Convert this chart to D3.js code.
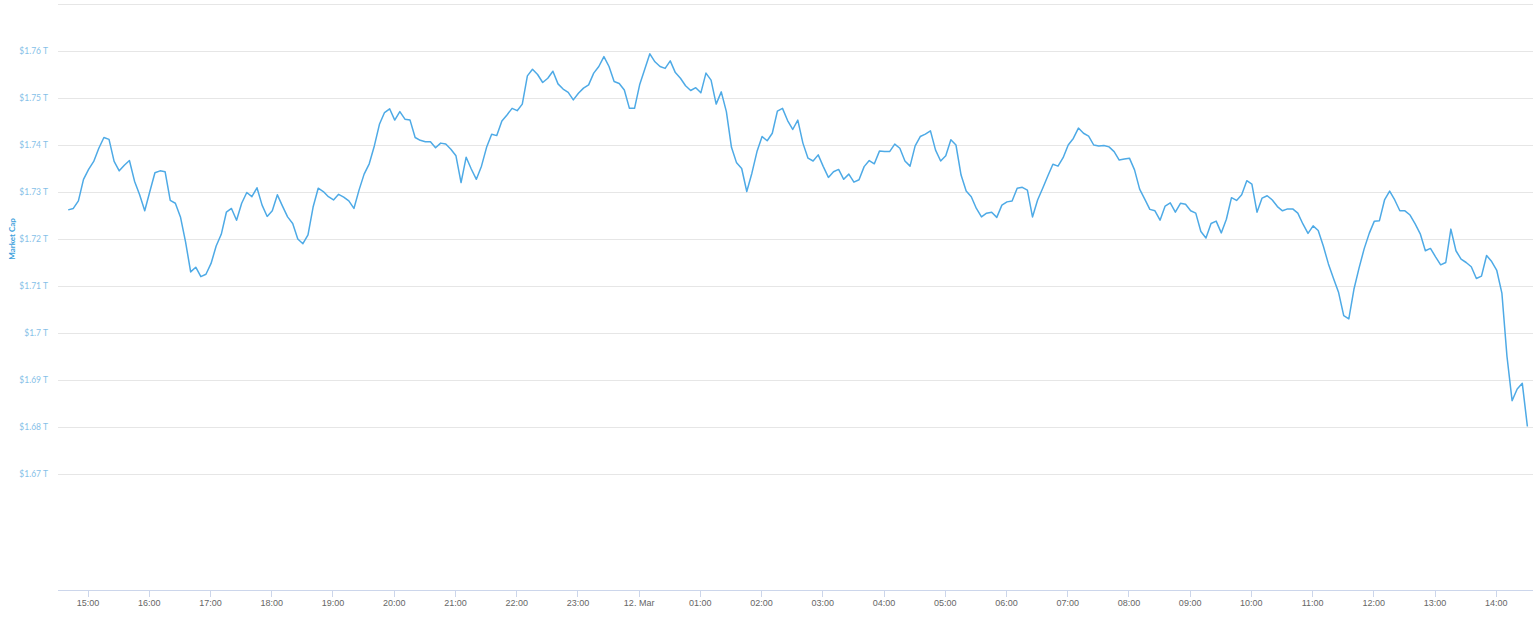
<!DOCTYPE html>
<html>
<head>
<meta charset="utf-8">
<script src="https://cdn.jsdelivr.net/npm/d3@7"></script>
<style>
  html, body { margin: 0; padding: 0; background: #fff; }
  svg { display: block; font-family: "Lato", "Open Sans", sans-serif; }
  .grid line { stroke: #e6e6e6; stroke-width: 1; shape-rendering: crispEdges; }
  .y-label { fill: #86bfe8; font-size: 8.5px; }
  .x-axis text { fill: #666; font-size: 9px; }
  .x-axis line, .x-axis path { stroke: #ccd6eb; shape-rendering: crispEdges; }
</style>
</head>
<body>
<svg width="1536" height="617"></svg>
<script>
// Market cap, 5 minute samples, 11 Mar 14:41 -> 12 Mar 14:31 (UTC)
const startTime = "2021-03-11T14:41:00Z";
const stepMinutes = 5;

const capValues = [
  1.7262, 1.7265, 1.7281, 1.7327, 1.7348, 1.7365, 1.7393, 1.7416, 1.7412, 1.7365,
  1.7345, 1.7357, 1.7367, 1.7323, 1.7294, 1.7260, 1.7301, 1.7341, 1.7345, 1.7343,
  1.7282, 1.7276, 1.7247, 1.7194, 1.7130, 1.7140, 1.7120, 1.7125, 1.7148, 1.7185,
  1.7210, 1.7257, 1.7265, 1.7240, 1.7276, 1.7299, 1.7290, 1.7309, 1.7272, 1.7248,
  1.7260, 1.7294, 1.7270, 1.7247, 1.7233, 1.7200, 1.7190, 1.7209,
  1.7268, 1.7308, 1.7301, 1.7290, 1.7283, 1.7295, 1.7289, 1.7281, 1.7265, 1.7304,
  1.7338, 1.7360, 1.7398, 1.7444, 1.7469, 1.7477, 1.7453, 1.7471, 1.7455, 1.7453,
  1.7416, 1.7410, 1.7407, 1.7407, 1.7394, 1.7404, 1.7402, 1.7391, 1.7377, 1.7320,
  1.7374, 1.7349, 1.7327, 1.7355, 1.7395, 1.7423, 1.7420, 1.7451, 1.7464, 1.7478,
  1.7473, 1.7487, 1.7547, 1.7561, 1.7550, 1.7533, 1.7542, 1.7557, 1.7530,
  1.7519, 1.7512, 1.7496, 1.7510, 1.7521, 1.7528, 1.7553, 1.7567, 1.7588, 1.7567,
  1.7535, 1.7531, 1.7517, 1.7478, 1.7478, 1.7528, 1.7561, 1.7594, 1.7577, 1.7567,
  1.7563, 1.7579, 1.7554, 1.7542, 1.7526, 1.7516, 1.7522, 1.7511, 1.7553, 1.7538,
  1.7487, 1.7513, 1.7471, 1.7395, 1.7362, 1.7350, 1.7301, 1.7340, 1.7386, 1.7418,
  1.7409, 1.7425, 1.7472, 1.7478, 1.7452, 1.7433, 1.7453, 1.7404, 1.7372,
  1.7366, 1.7379, 1.7354, 1.7331, 1.7343, 1.7348, 1.7327, 1.7338, 1.7321, 1.7326,
  1.7354, 1.7367, 1.7360, 1.7387, 1.7386, 1.7386, 1.7402, 1.7393, 1.7366, 1.7355,
  1.7398, 1.7418, 1.7423, 1.7430, 1.7389, 1.7366, 1.7377, 1.7411, 1.7400, 1.7336,
  1.7302, 1.7290, 1.7265, 1.7247, 1.7255, 1.7257, 1.7246, 1.7272, 1.7279, 1.7281,
  1.7308, 1.7310, 1.7304, 1.7247, 1.7283, 1.7308, 1.7334, 1.7359, 1.7355,
  1.7373, 1.7400, 1.7414, 1.7436, 1.7425, 1.7419, 1.7400, 1.7398, 1.7399, 1.7396,
  1.7386, 1.7368, 1.7370, 1.7372, 1.7347, 1.7306, 1.7285, 1.7263, 1.7260, 1.7240,
  1.7270, 1.7277, 1.7257, 1.7276, 1.7274, 1.7260, 1.7255, 1.7216, 1.7202, 1.7233,
  1.7238, 1.7213, 1.7242, 1.7288, 1.7282, 1.7294, 1.7324, 1.7317, 1.7257, 1.7287,
  1.7292, 1.7283, 1.7269, 1.7260, 1.7264, 1.7264, 1.7255, 1.7232, 1.7212,
  1.7228, 1.7218, 1.7185, 1.7147, 1.7116, 1.7086, 1.7037, 1.7030, 1.7093, 1.7138,
  1.7179, 1.7212, 1.7238, 1.7239, 1.7283, 1.7302, 1.7283, 1.7260, 1.7260, 1.7251,
  1.7232, 1.7211, 1.7175, 1.7180, 1.7162, 1.7145, 1.7150, 1.7221, 1.7175, 1.7157,
  1.7150, 1.7141, 1.7116, 1.7121, 1.7165, 1.7152, 1.7133, 1.7085, 1.6950, 1.6856,
  1.6881, 1.6893, 1.6801
];

const yTicks = [1.67, 1.68, 1.69, 1.7, 1.71, 1.72, 1.73, 1.74, 1.75, 1.76];
const yTop = 1.77;
const xDomain = ["2021-03-11T14:31:00Z", "2021-03-12T14:36:00Z"];

// build series
const t0 = new Date(startTime);
const series = capValues.map((v, i) => ({
  date: new Date(t0.getTime() + i * stepMinutes * 60000),
  value: v
}));

const svg = d3.select("svg");
const left = 58, right = 1532.5, axisY = 590;

const x = d3.scaleUtc()
  .domain(xDomain.map(d => new Date(d)))
  .range([left, right]);

const y = d3.scaleLinear()
  .domain([1.67, yTop])
  .range([474, 4]);

// gridlines
svg.append("g")
  .attr("class", "grid")
  .selectAll("line")
  .data(yTicks.concat([yTop]))
  .enter()
  .append("line")
  .attr("x1", left)
  .attr("x2", right)
  .attr("y1", d => Math.round(y(d)) + 0.5)
  .attr("y2", d => Math.round(y(d)) + 0.5);

// y labels
svg.append("g")
  .selectAll("text")
  .data(yTicks)
  .enter()
  .append("text")
  .attr("class", "y-label")
  .attr("x", 48)
  .attr("y", d => y(d))
  .attr("dy", "0.35em")
  .attr("text-anchor", "end")
  .text(d => "$" + (+d.toFixed(2)) + " T");

svg.append("text")
  .attr("transform", "translate(15," + y(1.72) + ") rotate(-90)")
  .attr("text-anchor", "middle")
  .attr("fill", "#3b9fdc")
  .attr("font-size", "8px")
  .attr("font-weight", "bold")
  .text("Market Cap");

// x axis
const fmtHour = d3.utcFormat("%H:%M");
const fmtDay = d3.utcFormat("%-d. %b");

const xAxis = d3.axisBottom(x)
  .ticks(d3.utcHour.every(1))
  .tickSize(6)
  .tickPadding(3)
  .tickFormat(d => d.getUTCHours() === 0 ? fmtDay(d) : fmtHour(d));

const gx = svg.append("g")
  .attr("class", "x-axis")
  .attr("transform", "translate(0," + (axisY + 0.5) + ")")
  .call(xAxis);
gx.select(".domain").attr("d", "M" + left + ",0H" + right);

// line
const line = d3.line()
  .x(d => x(d.date))
  .y(d => y(d.value));

svg.append("path")
  .datum(series)
  .attr("fill", "none")
  .attr("stroke", "#4eaae6")
  .attr("stroke-width", 1.5)
  .attr("stroke-linejoin", "round")
  .attr("d", line);
</script>
</body>
</html>
